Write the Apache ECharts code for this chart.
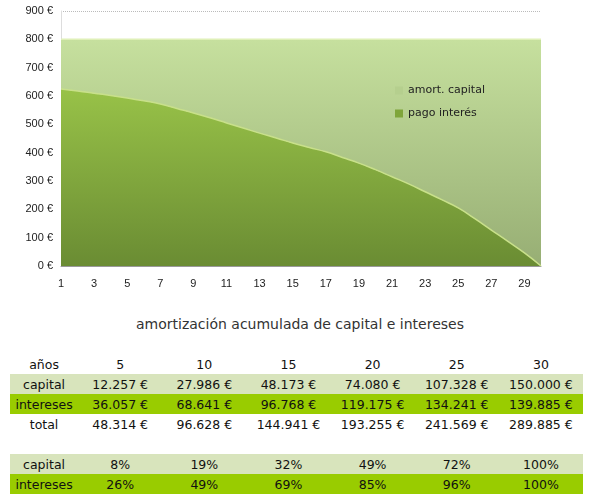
<!DOCTYPE html>
<html><head><meta charset="utf-8">
<script src="https://cdn.jsdelivr.net/npm/echarts@6/dist/echarts.min.js"></script>
<style>
body{margin:0;background:#fff;font-family:"DejaVu Sans",Verdana,sans-serif;}
#c{position:absolute;left:0;top:0;width:610px;height:300px;}
#t{position:absolute;left:0;top:316px;width:600px;text-align:center;font-size:14px;color:#333;}
table{position:absolute;left:10px;top:354px;width:573px;border-collapse:collapse;font-size:12.5px;color:#111;}
td{text-align:center;padding:0;height:20px;}
</style></head><body>
<div id="c"></div>
<div id="t">amortización acumulada de capital e intereses</div>
<table id="tb"></table>
<script>
const years = Array.from({length:30},(_,i)=>String(i+1));
const interes = [625,618,610,602,593,583,572,556,540,523,505,487,469,452,434,418,403,383,363,340,315,290,262,234,205,167,127,87,46,0];
const capital = [175,182,190,198,207,217,228,244,260,277,295,313,331,348,366,382,397,417,437,460,485,510,538,566,595,633,673,713,754,800];
const tblYears = ['5','10','15','20','25','30'];
const capAcum = ['12.257 €','27.986 €','48.173 €','74.080 €','107.328 €','150.000 €'];
const intAcum = ['36.057 €','68.641 €','96.768 €','119.175 €','134.241 €','139.885 €'];
const totAcum = ['48.314 €','96.628 €','144.941 €','193.255 €','241.569 €','289.885 €'];
const capPct = ['8%','19%','32%','49%','72%','100%'];
const intPct = ['26%','49%','69%','85%','96%','100%'];

const rows = [
 ['años',tblYears,'#fff'],['capital',capAcum,'#d8e4bc'],['intereses',intAcum,'#99cc00'],
 ['total',totAcum,'#fff'],['',['','','','','',''],'#fff'],['capital',capPct,'#d8e4bc'],['intereses',intPct,'#99cc00']];
const tb=document.getElementById('tb');
rows.forEach(r=>{const tr=document.createElement('tr');tr.style.background=r[2];
 [r[0]].concat(r[1]).forEach((v,i)=>{const td=document.createElement('td');td.textContent=v;td.style.width=i==0?'68px':'84px';tr.appendChild(td);});
 tb.appendChild(tr);});

const ch=echarts.init(document.getElementById('c'));
const grad=(a,b)=>new echarts.graphic.LinearGradient(0,0,0,1,[{offset:0,color:a},{offset:1,color:b}]);
ch.setOption({
 animation:false,
 grid:{left:61,right:69,top:11,bottom:34},
 legend:{orient:'vertical',left:390,top:80,itemWidth:8,itemHeight:8,itemGap:12,icon:'rect',
  textStyle:{fontSize:11,color:'#222',fontFamily:'DejaVu Sans'},data:['amort. capital','pago interés']},
 xAxis:{type:'category',data:years,boundaryGap:false,
  axisLine:{lineStyle:{color:'#999'}},axisTick:{show:false},
  axisLabel:{interval:1,color:'#222',fontSize:11,margin:12}},
 yAxis:{type:'value',min:0,max:900,interval:100,
  axisLine:{show:true,lineStyle:{color:'#ddd'}},
  splitLine:{lineStyle:{type:'dotted',color:'#bbb'}},
  axisLabel:{formatter:v=>v+' €',color:'#222',fontSize:11}},
 series:[
  {name:'pago interés',type:'line',stack:'a',data:interes,symbol:'none',smooth:true,
   lineStyle:{width:1.5,color:'#c8e08a'},itemStyle:{color:'#7fa53a'},
   areaStyle:{opacity:1,color:grad('#98c248','#6a8c33')}},
  {name:'amort. capital',type:'line',stack:'a',data:capital,symbol:'none',smooth:true,
   lineStyle:{width:1.5,color:'#dff0b8'},itemStyle:{color:'#b5cf8e'},
   areaStyle:{opacity:1,color:grad('#c6e09e','#97ae74')}}
 ]
});
</script></body></html>
